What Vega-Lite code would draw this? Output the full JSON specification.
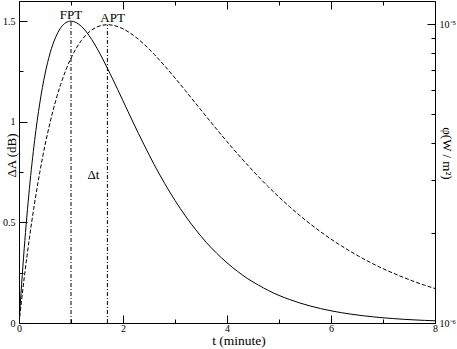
{
  "$schema": "https://vega.github.io/schema/vega-lite/v6.json",
  "width": 416,
  "height": 322,
  "autosize": {"type": "none"},
  "padding": {"left": 19, "top": 1, "right": 22, "bottom": 26},
  "background": "white",
  "config": {
    "view": {"stroke": "black", "strokeWidth": 1},
    "font": "Liberation Serif",
    "axis": {
      "labelFont": "Liberation Serif",
      "titleFont": "Liberation Serif",
      "labelColor": "black",
      "titleColor": "black",
      "tickColor": "black",
      "tickWidth": 1,
      "domain": false,
      "grid": false,
      "labelFontSize": 10,
      "titleFontWeight": "normal",
      "labelOverlap": false,
      "labelBound": false,
      "labelFlush": false
    }
  },
  "datasets": {
    "dA": [
      {"t": 0, "dA": 0}, {"t": 0.1, "dA": 0.369}, {"t": 0.2, "dA": 0.668}, {"t": 0.3, "dA": 0.906},
      {"t": 0.4, "dA": 1.093}, {"t": 0.5, "dA": 1.237}, {"t": 0.6, "dA": 1.343}, {"t": 0.7, "dA": 1.417},
      {"t": 0.8, "dA": 1.466}, {"t": 0.9, "dA": 1.492}, {"t": 1.0, "dA": 1.5}, {"t": 1.2, "dA": 1.474},
      {"t": 1.4, "dA": 1.408}, {"t": 1.6, "dA": 1.317}, {"t": 1.8, "dA": 1.213}, {"t": 2.0, "dA": 1.104},
      {"t": 2.2, "dA": 0.994}, {"t": 2.4, "dA": 0.888}, {"t": 2.6, "dA": 0.787}, {"t": 2.8, "dA": 0.694},
      {"t": 3.0, "dA": 0.609}, {"t": 3.2, "dA": 0.532}, {"t": 3.4, "dA": 0.463}, {"t": 3.6, "dA": 0.401},
      {"t": 3.8, "dA": 0.347}, {"t": 4.0, "dA": 0.299}, {"t": 4.2, "dA": 0.257}, {"t": 4.4, "dA": 0.220},
      {"t": 4.6, "dA": 0.189}, {"t": 4.8, "dA": 0.161}, {"t": 5.0, "dA": 0.137}, {"t": 5.2, "dA": 0.117},
      {"t": 5.4, "dA": 0.0995}, {"t": 5.6, "dA": 0.0845}, {"t": 5.8, "dA": 0.0716}, {"t": 6.0, "dA": 0.0606},
      {"t": 6.2, "dA": 0.0513}, {"t": 6.4, "dA": 0.0434}, {"t": 6.6, "dA": 0.0366}, {"t": 6.8, "dA": 0.0309},
      {"t": 7.0, "dA": 0.0260}, {"t": 7.2, "dA": 0.0219}, {"t": 7.4, "dA": 0.0184}, {"t": 7.6, "dA": 0.0155},
      {"t": 7.8, "dA": 0.0130}, {"t": 8.0, "dA": 0.0109}
    ],
    "phi": [
      {"t": 0, "phi": 1.000e-6}, {"t": 0.1, "phi": 1.414e-6}, {"t": 0.2, "phi": 1.921e-6}, {"t": 0.3, "phi": 2.519e-6},
      {"t": 0.4, "phi": 3.194e-6}, {"t": 0.5, "phi": 3.930e-6}, {"t": 0.6, "phi": 4.705e-6}, {"t": 0.7, "phi": 5.493e-6},
      {"t": 0.8, "phi": 6.269e-6}, {"t": 0.9, "phi": 7.007e-6}, {"t": 1.0, "phi": 7.689e-6}, {"t": 1.2, "phi": 8.811e-6},
      {"t": 1.4, "phi": 9.554e-6}, {"t": 1.6, "phi": 9.906e-6}, {"t": 1.7, "phi": 9.948e-6}, {"t": 1.8, "phi": 9.909e-6},
      {"t": 2.0, "phi": 9.636e-6}, {"t": 2.2, "phi": 9.165e-6}, {"t": 2.4, "phi": 8.573e-6}, {"t": 2.6, "phi": 7.919e-6},
      {"t": 2.8, "phi": 7.252e-6}, {"t": 3.0, "phi": 6.599e-6}, {"t": 3.2, "phi": 5.986e-6}, {"t": 3.4, "phi": 5.420e-6},
      {"t": 3.6, "phi": 4.909e-6}, {"t": 3.8, "phi": 4.451e-6}, {"t": 4.0, "phi": 4.044e-6}, {"t": 4.2, "phi": 3.685e-6},
      {"t": 4.4, "phi": 3.370e-6}, {"t": 4.6, "phi": 3.093e-6}, {"t": 4.8, "phi": 2.850e-6}, {"t": 5.0, "phi": 2.638e-6},
      {"t": 5.2, "phi": 2.452e-6}, {"t": 5.4, "phi": 2.288e-6}, {"t": 5.6, "phi": 2.145e-6}, {"t": 5.8, "phi": 2.019e-6},
      {"t": 6.0, "phi": 1.908e-6}, {"t": 6.2, "phi": 1.811e-6}, {"t": 6.4, "phi": 1.724e-6}, {"t": 6.6, "phi": 1.648e-6},
      {"t": 6.8, "phi": 1.580e-6}, {"t": 7.0, "phi": 1.520e-6}, {"t": 7.2, "phi": 1.467e-6}, {"t": 7.4, "phi": 1.419e-6},
      {"t": 7.6, "phi": 1.376e-6}, {"t": 7.8, "phi": 1.338e-6}, {"t": 8.0, "phi": 1.304e-6}
    ],
    "peaks": [
      {"name": "FPT", "t": 1.0, "v0": 0, "v1": 1.5},
      {"name": "APT", "t": 1.7, "v0": 0, "v1": 1.482}
    ],
    "notes": [
      {"label": "FPT", "t": 1.0, "v": 1.53},
      {"label": "APT", "t": 1.8, "v": 1.515},
      {"label": "Δt", "t": 1.43, "v": 0.735}
    ]
  },
  "layer": [
    {
      "data": {"name": "dA"},
      "mark": {"type": "line", "color": "black", "strokeWidth": 1, "interpolate": "monotone", "clip": true},
      "encoding": {
        "x": {
          "field": "t", "type": "quantitative",
          "scale": {"domain": [0, 8], "nice": false, "zero": false},
          "axis": {
            "orient": "bottom",
            "values": [0, 1, 2, 3, 4, 5, 6, 7, 8],
            "labelExpr": "datum.value % 2 === 0 ? format(datum.value, '~g') : ''",
            "tickSize": {"condition": {"test": "datum.value % 2 === 0", "value": -8}, "value": -4},
            "labelPadding": 8,
            "title": "t (minute)",
            "titleFontSize": 13.5,
            "titleX": 219.5,
            "titleY": 21.5,
            "titleAlign": "center",
            "titleBaseline": "alphabetic"
          }
        },
        "y": {
          "field": "dA", "type": "quantitative",
          "scale": {"domain": [0, 1.6], "nice": false, "zero": false},
          "axis": {
            "orient": "left",
            "values": [0, 0.25, 0.5, 0.75, 1, 1.25, 1.5],
            "labelExpr": "(datum.value * 2) % 1 === 0 ? format(datum.value, '~g') : ''",
            "tickSize": {"condition": {"test": "(datum.value * 2) % 1 === 0", "value": -8}, "value": -4},
            "labelPadding": 12,
            "title": "ΔA (dB)",
            "titleFontSize": 13,
            "titleAngle": 270,
            "titleX": -7.5,
            "titleY": 154,
            "titleAlign": "center",
            "titleBaseline": "middle"
          }
        }
      }
    },
    {
      "data": {"name": "peaks"},
      "mark": {"type": "rule", "color": "black", "strokeWidth": 1, "strokeDash": [4, 2, 1, 2]},
      "encoding": {
        "x": {"field": "t", "type": "quantitative", "axis": null},
        "y": {"field": "v0", "type": "quantitative", "axis": null, "scale": {"domain": [0, 1.6], "nice": false, "zero": false}},
        "y2": {"field": "v1"}
      }
    },
    {
      "data": {"name": "notes"},
      "mark": {"type": "text", "font": "Liberation Serif", "fontSize": 13, "color": "black", "align": "center", "baseline": "middle"},
      "encoding": {
        "x": {"field": "t", "type": "quantitative", "axis": null},
        "y": {"field": "v", "type": "quantitative", "axis": null, "scale": {"domain": [0, 1.6], "nice": false, "zero": false}},
        "text": {"field": "label"}
      }
    },
    {
      "data": {"name": "phi"},
      "mark": {"type": "line", "color": "black", "strokeWidth": 1, "strokeDash": [4, 2], "interpolate": "monotone", "clip": true},
      "encoding": {
        "x": {
          "field": "t", "type": "quantitative",
          "axis": {
            "orient": "top",
            "values": [0, 1, 2, 3, 4, 5, 6, 7, 8],
            "labels": false,
            "tickSize": {"condition": {"test": "datum.value % 2 === 0", "value": -8}, "value": -4},
            "title": null
          }
        },
        "y": {
          "field": "phi", "type": "quantitative",
          "scale": {"type": "log", "domain": [1e-6, 1.194e-5], "nice": false},
          "axis": {
            "orient": "right",
            "values": [1e-6, 2e-6, 3e-6, 4e-6, 5e-6, 6e-6, 7e-6, 8e-6, 9e-6, 1e-5],
            "labelExpr": "abs(log(datum.value) / LN10 - round(log(datum.value) / LN10)) < 1e-6 ? (round(log(datum.value) / LN10) === -6 ? '10⁻⁶' : '10⁻⁵') : ''",
            "tickSize": {"condition": {"test": "abs(log(datum.value) / LN10 - round(log(datum.value) / LN10)) < 1e-6", "value": -8}, "value": -4},
            "labelPadding": 12,
            "title": "φ(W / m²)",
            "titleFontSize": 13,
            "titleAngle": 90,
            "titleX": 11,
            "titleY": 152,
            "titleAlign": "center",
            "titleBaseline": "middle"
          }
        }
      }
    }
  ],
  "resolve": {"scale": {"y": "independent"}, "axis": {"x": "independent", "y": "independent"}}
}
